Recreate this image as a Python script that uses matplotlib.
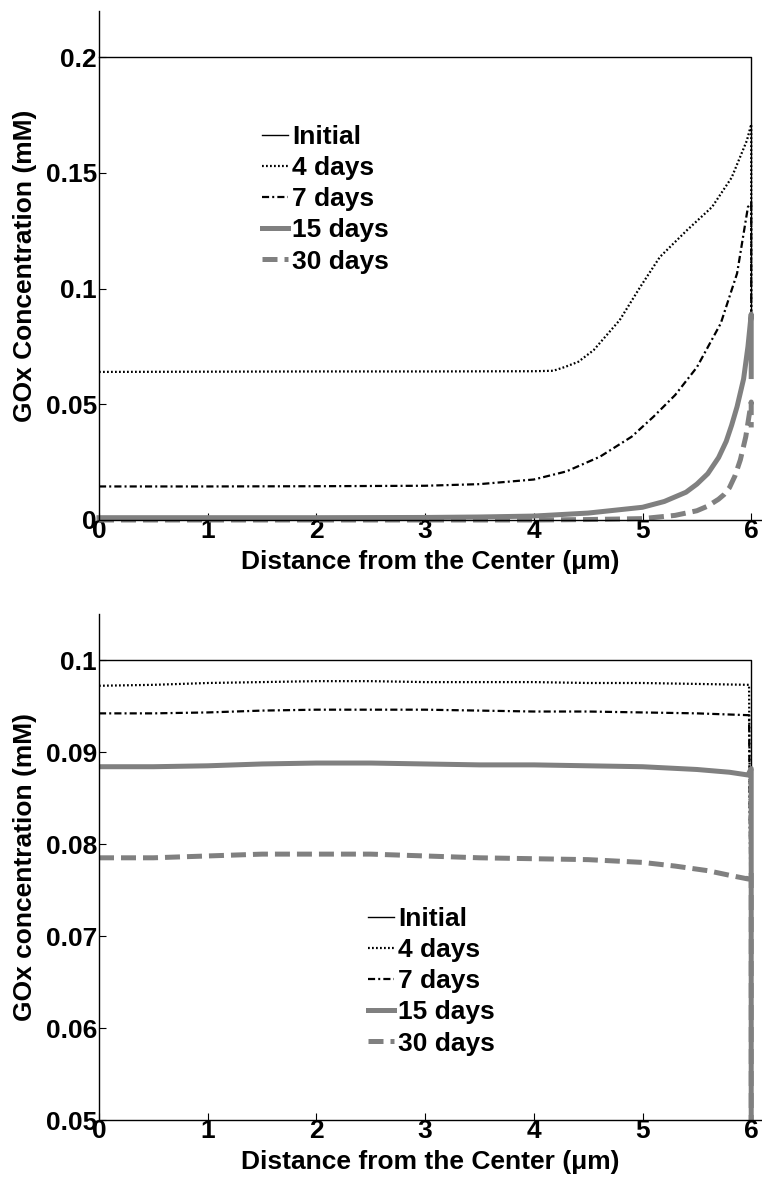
import matplotlib
matplotlib.use("Agg")
import matplotlib.pyplot as plt
from matplotlib import font_manager

# ---- data: GOx concentration profiles inside the particle ----
labels = ["Initial", "4 days", "7 days", "15 days", "30 days"]

# upper panel (mM)
x_init_a = [0.0, 6.0, 6.0]
c_init_a = [0.2, 0.2, 0.07]

x_d4_a = [0.0, 1.0, 2.0, 3.0, 4.0, 4.18, 4.29, 4.41, 4.55, 4.79, 4.98, 5.16, 5.41, 5.64, 5.82, 5.96, 6.0, 6.0]
c_d4_a = [0.064, 0.0641, 0.0642, 0.0642, 0.0643, 0.0645, 0.0662, 0.0684, 0.0734, 0.0864, 0.1008, 0.1137, 0.1253, 0.1353, 0.148, 0.164, 0.171, 0.07]

x_d7_a = [0.0, 1.0, 2.0, 3.0, 3.5, 4.0, 4.3, 4.61, 4.9, 5.1, 5.3, 5.5, 5.72, 5.87, 5.97, 6.0, 6.0]
c_d7_a = [0.0145, 0.0145, 0.0146, 0.0148, 0.0155, 0.0175, 0.021, 0.0274, 0.036, 0.0446, 0.054, 0.066, 0.085, 0.1066, 0.1353, 0.137, 0.07]

x_d15_a = [0.0, 1.0, 2.0, 3.0, 3.5, 4.0, 4.5, 5.0, 5.2, 5.4, 5.5, 5.6, 5.7, 5.77, 5.82, 5.87, 5.93, 5.97, 6.0, 6.0]
c_d15_a = [0.001, 0.001, 0.001, 0.0011, 0.0013, 0.0017, 0.003, 0.0055, 0.008, 0.012, 0.0155, 0.020, 0.027, 0.034, 0.041, 0.049, 0.061, 0.075, 0.089, 0.062]

x_d30_a = [0.0, 1.0, 2.0, 3.0, 4.0, 4.5, 5.0, 5.3, 5.5, 5.6, 5.7, 5.75, 5.8, 5.85, 5.9, 5.95, 5.98, 6.0, 6.0]
c_d30_a = [0.0, 0.0, 0.0, 0.0, 0.0, 0.0002, 0.0006, 0.002, 0.004, 0.006, 0.009, 0.011, 0.014, 0.019, 0.026, 0.036, 0.045, 0.051, 0.04]

# lower panel (mM)
x_init_b = [0.0, 6.0, 6.0]
c_init_b = [0.1, 0.1, 0.06]

x_d4_b = [0.0, 0.5, 1.0, 1.5, 2.0, 2.5, 3.0, 3.5, 4.0, 4.5, 5.0, 5.5, 5.98, 6.0]
c_d4_b = [0.0972, 0.0973, 0.0975, 0.0976, 0.0977, 0.0977, 0.0976, 0.0976, 0.0976, 0.0975, 0.0975, 0.0974, 0.0973, 0.06]

x_d7_b = [0.0, 0.5, 1.0, 1.5, 2.0, 2.5, 3.0, 3.5, 4.0, 4.5, 5.0, 5.5, 5.98, 6.0]
c_d7_b = [0.0942, 0.0942, 0.0943, 0.0945, 0.0946, 0.0946, 0.0946, 0.0945, 0.0944, 0.0944, 0.0943, 0.0942, 0.0940, 0.06]

x_d15_b = [0.0, 0.5, 1.0, 1.5, 2.0, 2.5, 3.0, 3.5, 4.0, 4.5, 5.0, 5.5, 5.8, 5.97, 6.0, 6.0]
c_d15_b = [0.0884, 0.0884, 0.0885, 0.0887, 0.0888, 0.0888, 0.0887, 0.0886, 0.0886, 0.0885, 0.0884, 0.0881, 0.0878, 0.0875, 0.0882, 0.03]

x_d30_b = [0.0, 0.5, 1.0, 1.5, 2.0, 2.5, 3.0, 3.5, 4.0, 4.5, 5.0, 5.3, 5.6, 5.8, 5.97, 6.0, 6.0]
c_d30_b = [0.0785, 0.0785, 0.0787, 0.0789, 0.0789, 0.0789, 0.0787, 0.0785, 0.0784, 0.0783, 0.0780, 0.0776, 0.0771, 0.0766, 0.0762, 0.077, 0.03]

xticks = [0, 1, 2, 3, 4, 5, 6]
yticks_a = [0, 0.05, 0.1, 0.15, 0.2]
yticks_b = [0.05, 0.06, 0.07, 0.08, 0.09, 0.1]

# ---- styling ----
families = [f.name for f in font_manager.fontManager.ttflist]
font = "Liberation Sans" if "Liberation Sans" in families else "DejaVu Sans"
plt.rcParams["font.family"] = [font, "DejaVu Sans"]
plt.rcParams["font.weight"] = "bold"
plt.rcParams["axes.linewidth"] = 1.0

FS = 19
GRAY = "#808080"
styles = [
    dict(color="black", lw=1.0, ls="-"),
    dict(color="black", lw=1.6, ls=(0, (0.8, 1.0))),
    dict(color="black", lw=1.6, ls=(0, (3.2, 1.4, 0.9, 1.4))),
    dict(color=GRAY, lw=3.6, ls="-"),
    dict(color=GRAY, lw=3.6, ls=(0, (3.0, 1.4))),
]

W, H = 762, 1179
LEFT, RIGHT = 99, 761
fig = plt.figure(figsize=(W / 100, H / 100), dpi=100)


def make_axes(top_px, bottom_px):
    return fig.add_axes([LEFT / W, 1 - bottom_px / H,
                         (RIGHT - LEFT) / W, (bottom_px - top_px) / H])


def style_axes(ax, ylim, yticks, ylabel):
    ax.set_xlim(0, 6.09)
    ax.set_ylim(*ylim)
    ax.set_xticks(xticks)
    ax.set_xticklabels([str(t) for t in xticks])
    ax.set_yticks(yticks)
    ax.set_yticklabels([f"{t:g}" for t in yticks])
    ax.spines["top"].set_visible(False)
    ax.spines["right"].set_visible(False)
    ax.tick_params(direction="in", length=5, width=0.8, labelsize=FS)
    ax.tick_params(axis="x", pad=-1)
    ax.tick_params(axis="y", pad=1.5)
    for lab in ax.get_xticklabels() + ax.get_yticklabels():
        lab.set_fontweight("bold")
    ax.set_xlabel("Distance from the Center (\u03bcm)", fontsize=FS,
                  fontweight="bold", labelpad=5)
    ax.set_ylabel(ylabel, fontsize=FS, fontweight="bold")
    ax.yaxis.set_label_coords((37 - LEFT) / (RIGHT - LEFT), 0.5)


def add_legend(ax, left_px, top_px):
    ax.legend(loc="upper left", bbox_to_anchor=(left_px / W, 1 - top_px / H),
              bbox_transform=fig.transFigure, frameon=False, fontsize=FS,
              handlelength=1.0, handletextpad=0.15, labelspacing=0.27,
              borderpad=0, borderaxespad=0)


# upper panel
ax1 = make_axes(11, 520)
series_a = [(x_init_a, c_init_a), (x_d4_a, c_d4_a), (x_d7_a, c_d7_a),
            (x_d15_a, c_d15_a), (x_d30_a, c_d30_a)]
for (xs, cs), st, lab in zip(series_a, styles, labels):
    ax1.plot(xs, cs, label=lab, clip_on=False, **st)
style_axes(ax1, (0, 0.22), yticks_a, "GOx Concentration (mM)")
add_legend(ax1, 262, 125)

# lower panel
ax2 = make_axes(614, 1120)
series_b = [(x_init_b, c_init_b), (x_d4_b, c_d4_b), (x_d7_b, c_d7_b),
            (x_d15_b, c_d15_b), (x_d30_b, c_d30_b)]
for (xs, cs), st, lab in zip(series_b, styles, labels):
    ax2.plot(xs, cs, label=lab, **st)
style_axes(ax2, (0.05, 0.105), yticks_b, "GOx concentration (mM)")
add_legend(ax2, 368, 907)

fig.savefig("out.png", dpi=100)
